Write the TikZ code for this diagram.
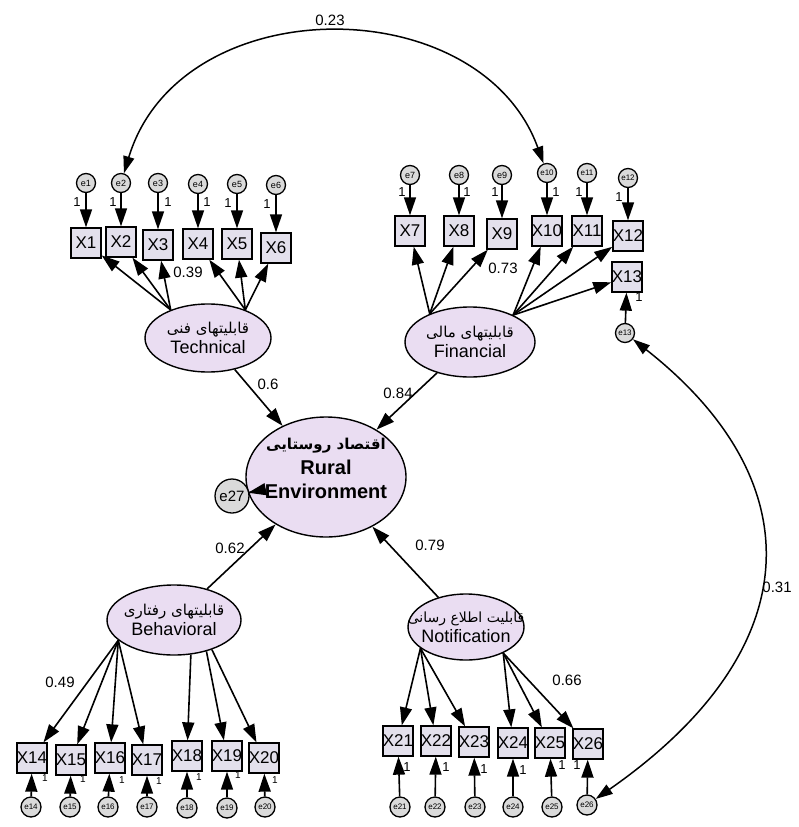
\documentclass[tikz,border=0pt]{standalone}
\usepackage{fontspec}
\setmainfont{Liberation Sans}
\newfontfamily\fa[Script=Arabic]{DejaVu Sans}
\TeXXeTstate=1
\usetikzlibrary{arrows.meta,shapes.geometric}
\definecolor{boxfill}{HTML}{E3E0EC}
\definecolor{latfill}{HTML}{EADDF2}
\definecolor{errfill}{HTML}{DADADA}
\newcommand{\zw}[1]{\makebox[0pt]{#1}}
\newcommand{\myfs}[1]{\fontsize{#1}{#1}\selectfont}
\begin{document}
\begin{tikzpicture}[x=1pt,y=-1pt,
  obs/.style={draw, line width=1.3pt, fill=boxfill, minimum width=30pt, minimum height=30pt, inner sep=0pt, font=\myfs{17}},
  err/.style={circle, draw, line width=1.3pt, fill=errfill, minimum size=19pt, inner sep=0pt, font=\myfs{9}},
  errb/.style={err, minimum size=20pt, font=\myfs{8}},
  lat/.style={ellipse, draw, line width=1.4pt, fill=latfill, inner sep=0pt, align=center, font=\myfs{18}},
  arr/.style={line width=1.6pt, -{Triangle[length=18pt,width=12pt]}},
  earr/.style={line width=1.6pt, -{Triangle[length=18pt,width=12pt]}},
  cov/.style={line width=1.5pt, {Triangle[length=17pt,width=11pt]}-{Triangle[length=17pt,width=11pt]}},
  num/.style={font=\myfs{15}, inner sep=1pt},
  one/.style={font=\myfs{13}, inner sep=0pt},
  ones/.style={font=\myfs{10}, inner sep=0pt}]
\useasboundingbox[fill=white] (0,0) rectangle (799,827);

% latent variables
\node[lat, minimum width=126pt, minimum height=68pt] (tech) at (208,338)
  {{\fa\myfs{15}\zw{\beginR قابلیتهای فنی\endR}}\\[2pt]\zw{Technical}};
\node[lat, minimum width=130pt, minimum height=70pt] (fin) at (470,342)
  {{\fa\myfs{15}\zw{\beginR قابلیتهای مالی\endR}}\\[2pt]\zw{Financial}};
\node[lat, minimum width=134pt, minimum height=70pt] (beh) at (174,620)
  {{\fa\myfs{15}\zw{\beginR قابلیتهای رفتاری\endR}}\\[2pt]\zw{Behavioral}};
\node[lat, minimum width=116pt, minimum height=66pt] (notif) at (466,627)
  {{\fa\myfs{14}\zw{\beginR قابلیت اطلاع رسانی\endR}}\\[2pt]\zw{Notification}};
\node[lat, minimum width=160pt, minimum height=120pt] (rural) at (326,477) {};
\node[align=center, font=\bfseries\myfs{20}, inner sep=0pt] (ruraltext) at (326,468)
  {{\fa\bfseries\myfs{15}\zw{\beginR اقتصاد روستایی\endR}}\\[5pt]\zw{Rural}\\[4pt]\zw{Environment}};
\node[err, minimum size=34pt, font=\myfs{15}] (e27) at (232,496) {e27};

% Technical indicators
\foreach \i/\x/\y/\ey in {1/86/243/183, 2/121/242/183, 3/158/245/183, 4/198/244/184, 5/237/244/184, 6/276/248/185}{
  \node[obs] (X\i) at (\x,\y) {X\i};
  \node[err] (e\i) at (\x,\ey) {e\i};
}
% Financial indicators
\foreach \i/\x/\y/\ey in {7/410/231/175, 8/459/231/175, 9/502/234/175}{
  \node[obs] (X\i) at (\x,\y) {X\i};
  \node[err] (e\i) at (\x,\ey) {e\i};
}
\foreach \i/\x/\y/\ey in {10/547/231/173, 11/587/231/173, 12/628/236/178}{
  \node[obs] (X\i) at (\x,\y) {X\i};
  \node[err, font=\myfs{8}] (e\i) at (\x,\ey) {e\i};
}
\node[obs] (X13) at (627,277) {X13};
\node[err, font=\myfs{8}] (e13) at (625,333) {e13};
% Behavioral indicators
\foreach \i/\x/\y/\ex/\ey in {14/32/758/31/807, 15/71/760/70/807, 16/110/758/108/807, 17/147/760/147/807, 18/187/756/187/808, 19/227/756/227/808, 20/264/758/265/807}{
  \node[obs] (X\i) at (\x,\y) {X\i};
  \node[errb] (e\i) at (\ex,\ey) {e\i};
}
% Notification indicators
\foreach \i/\x/\y/\ex/\ey in {21/398/741/400/807, 22/436/741/435/807, 23/474/742/475/807, 24/513/743/513/807, 25/550/743/552/807, 26/588/744/587/805}{
  \node[obs] (X\i) at (\x,\y) {X\i};
  \node[errb] (e\i) at (\ex,\ey) {e\i};
}

% error arrows
\foreach \i in {1,...,12}{ \draw[earr] (e\i) -- (X\i); }
\foreach \i in {13,...,26}{ \draw[earr] (e\i) -- (X\i); }
\draw[earr] (e27) -- (rural);

% loadings
\foreach \i in {1,2,3}{ \draw[arr] (tech.143) -- (X\i); }
\foreach \i in {4,5,6}{ \draw[arr] (tech.37) -- (X\i); }
\foreach \i in {7,8,9}{ \draw[arr] (fin.145) -- (X\i); }
\foreach \i in {10,...,13}{ \draw[arr] (fin.32) -- (X\i); }
\foreach \i in {14,...,17}{ \draw[arr] (beh.200) -- (X\i); }
\draw[arr] (beh.296) -- (X18);
\draw[arr] (beh.316) -- (X19);
\draw[arr] (beh.322) -- (X20);
\foreach \i in {21,22,23}{ \draw[arr] (notif.205) -- (X\i); }
\foreach \i in {24,25,26}{ \draw[arr] (notif.325) -- (X\i); }

% structural paths
\draw[arr] (tech) -- (rural);
\draw[arr] (fin) -- (rural);
\draw[arr] (beh) -- (rural);
\draw[arr] (notif) -- (rural);

% covariances
\draw[cov] (e2) .. controls (180,-12) and (480,-12) .. (e10);
\draw[cov] (e13) .. controls (812,480) and (812,648) .. (e26);

% coefficient labels
\node[num] (l23) at (330,20) {0.23};
\node[num] (l31) at (777,587) {0.31};
\node[num] (l39) at (188,272) {0.39};
\node[num] (l73) at (503,268) {0.73};
\node[num] (l6) at (268,384) {0.6};
\node[num] (l84) at (398,393) {0.84};
\node[num] (l62) at (230,548) {0.62};
\node[num] (l79) at (430,545) {0.79};
\node[num] (l49) at (60,682) {0.49};
\node[num] (l66) at (567,680) {0.66};

% fixed "1" labels
\foreach \x/\y [count=\k] in {77/202, 113/202, 168/202, 207/202, 228/203, 267/204, 402/192, 467/192, 495/192, 556/192, 579/192, 619/197, 639/297, 407/767, 446/767, 484/769, 523/770, 562/765, 577/765}{
  \node[one] (o\k) at (\x,\y) {1};
}
\foreach \x/\y [count=\k] in {45/778, 83/779, 122/780, 159/781, 199/777, 238/775, 275/780}{
  \node[ones] (ob\k) at (\x,\y) {1};
}
\end{tikzpicture}
\end{document}
